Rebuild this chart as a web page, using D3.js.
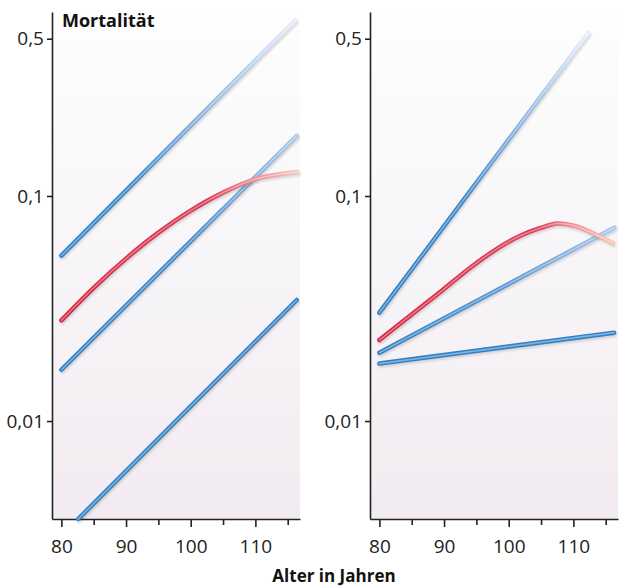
<!DOCTYPE html>
<html>
<head>
<meta charset="utf-8">
<script src="https://cdn.jsdelivr.net/npm/d3@7"></script>
<style>
  body { margin: 0; background: #fff; }
  svg { display: block; font-family: "Open Sans", sans-serif; }
</style>
</head>
<body>
<svg id="chart" width="620" height="586"></svg>
<script>

// tick values / labels
var yTicks = [0.01, 0.1, 0.5];
var yTickLabels = ["0,01", "0,1", "0,5"];
var xTicks = [80, 90, 100, 110];
var xMinorTicks = [85, 95, 105, 115];

// left panel, mortality
var leftTopAges = [80, 116.2];
var leftTopValues = [0.0543, 0.605];
var leftMidAges = [80, 116.4];
var leftMidValues = [0.0169, 0.185];
var leftLowAges = [82.6, 116.4];
var leftLowValues = [0.00367, 0.0345];
var leftRedAges = [80, 85, 90, 95, 100, 105, 110, 115, 116.5];
var leftRedValues = [0.0280, 0.0391, 0.0527, 0.0687, 0.0861, 0.1035, 0.1189, 0.1265, 0.1279];

// right panel
var rightTopAges = [80, 112.3];
var rightTopValues = [0.0303, 0.53];
var rightMidAges = [80, 116.3];
var rightMidValues = [0.0201, 0.0723];
var rightLowAges = [80, 116.3];
var rightLowValues = [0.0180, 0.0247];
var rightRedAges = [80, 84.7, 89.4, 94.0, 98.6, 101.7, 104.9, 107.5, 110.2, 113.3, 116.1];
var rightRedValues = [0.0229, 0.0293, 0.0374, 0.0479, 0.0593, 0.0664, 0.0721, 0.0755, 0.0736, 0.0678, 0.0618];

var svg = d3.select("#chart");
var defs = svg.append("defs");

// soft shadow under the lines
defs.append("filter").attr("id", "blur")
  .append("feGaussianBlur").attr("stdDeviation", 1.1);

// background fade white -> pinkish
var bg = defs.append("linearGradient").attr("id", "bg")
  .attr("x1", 0).attr("y1", 0).attr("x2", 0).attr("y2", 1);
bg.append("stop").attr("offset", 0).attr("stop-color", "#fefefe");
bg.append("stop").attr("offset", 0.45).attr("stop-color", "#f8f6f8");
bg.append("stop").attr("offset", 1).attr("stop-color", "#f2ebf1");

var plotTop = 12, plotBottom = 519;

var y = d3.scaleLog()
  .domain([0.00367, 0.657])
  .range([plotBottom, plotTop]);

var panels = [
  { left: 52, right: 300 },
  { left: 370, right: 618 }
];

var blue = "#2f7fc3", red = "#d8243e";

// stroke colour stops along each line (fading out to the upper right)
var series = [
  { panel: 0, ages: leftTopAges, values: leftTopValues, stops: [[0, blue], [0.3, "#3784c7"], [0.65, "#94b7e1"], [1, "#e6edf8"]] },
  { panel: 0, ages: leftMidAges, values: leftMidValues, stops: [[0, blue], [0.55, "#3f88c9"], [1, "#a9c5e9"]] },
  { panel: 0, ages: leftLowAges, values: leftLowValues, stops: [[0, blue], [1, blue]] },
  { panel: 0, ages: leftRedAges, values: leftRedValues, curved: true, stops: [[0, red], [0.65, "#dc3550"], [1, "#f8c6c2"]] },
  { panel: 1, ages: rightTopAges, values: rightTopValues, stops: [[0, blue], [0.4, "#3a85c8"], [0.75, "#9dbde4"], [1, "#e8eef8"]] },
  { panel: 1, ages: rightMidAges, values: rightMidValues, stops: [[0, blue], [0.55, "#5495d2"], [1, "#a8c6ec"]] },
  { panel: 1, ages: rightLowAges, values: rightLowValues, stops: [[0, blue], [1, blue]] },
  { panel: 1, ages: rightRedAges, values: rightRedValues, curved: true, stops: [[0, red], [0.75, "#de3a55"], [0.88, "#f08a90"], [1, "#fac4b2"]] }
];

function makePanel(p) {
  var x = d3.scaleLinear()
    .domain([78.55, 116.9])
    .range([p.left, p.right]);
  p.x = x;

  var g = svg.append("g");

  g.append("rect")
    .attr("x", p.left)
    .attr("y", plotTop)
    .attr("width", p.right - p.left)
    .attr("height", plotBottom - plotTop)
    .attr("fill", "url(#bg)");

  // y axis
  var yAxis = d3.axisLeft(y)
    .tickValues(yTicks)
    .tickFormat(function(d, i) { return yTickLabels[i]; })
    .tickSize(5)
    .tickSizeOuter(0)
    .tickPadding(3);

  g.append("g")
    .attr("transform", "translate(" + p.left + ",0)")
    .call(yAxis);

  // x axis, major and minor ticks
  var xAxis = d3.axisBottom(x)
    .tickValues(xTicks)
    .tickSize(8)
    .tickSizeOuter(0)
    .tickPadding(13);

  g.append("g")
    .attr("transform", "translate(0," + plotBottom + ")")
    .call(xAxis);

  g.append("g")
    .attr("transform", "translate(0," + plotBottom + ")")
    .call(d3.axisBottom(x).tickValues(xMinorTicks).tickSize(6).tickFormat(""))
    .select(".domain").remove();

  g.selectAll(".domain, .tick line")
    .attr("stroke", "#222")
    .attr("stroke-width", 1.6);
  g.selectAll(".tick text")
    .attr("fill", "#222")
    .style("font-size", "19px")
    .style("font-family", "'Open Sans', sans-serif");
}

panels.forEach(makePanel);

var straight = d3.line()
  .x(function(d) { return d.px; })
  .y(function(d) { return d.py; });
var smooth = d3.line()
  .x(function(d) { return d.px; })
  .y(function(d) { return d.py; })
  .curve(d3.curveCatmullRom.alpha(0.5));

series.forEach(function(s, i) {
  var x = panels[s.panel].x;
  var pts = s.ages.map(function(a, j) {
    return { px: x(a), py: y(s.values[j]) };
  });
  var line = s.curved ? smooth : straight;
  var first = pts[0], last = pts[pts.length - 1];

  // one gradient for the rim, a lighter one for the centre
  ["o", "i"].forEach(function(k) {
    var grad = defs.append("linearGradient")
      .attr("id", "g" + i + k)
      .attr("gradientUnits", "userSpaceOnUse")
      .attr("x1", first.px).attr("y1", first.py)
      .attr("x2", last.px).attr("y2", last.py);
    s.stops.forEach(function(st) {
      var c = k == "o" ? st[1] : d3.interpolateRgb(st[1], "#fff")(0.38);
      grad.append("stop").attr("offset", st[0]).attr("stop-color", c);
    });
  });

  svg.append("path")
    .attr("d", line(pts))
    .attr("fill", "none")
    .attr("stroke", "#000")
    .attr("stroke-opacity", 0.14)
    .attr("stroke-width", 4.5)
    .attr("stroke-linecap", "round")
    .attr("filter", "url(#blur)")
    .attr("transform", "translate(1,2)");

  svg.append("path")
    .attr("d", line(pts))
    .attr("fill", "none")
    .attr("stroke", "url(#g" + i + "o)")
    .attr("stroke-width", 4.5)
    .attr("stroke-linecap", "round");

  svg.append("path")
    .attr("d", line(pts))
    .attr("fill", "none")
    .attr("stroke", "url(#g" + i + "i)")
    .attr("stroke-width", 1.6)
    .attr("stroke-linecap", "round");
});

// titles
svg.append("text")
  .attr("x", 62)
  .attr("y", 27)
  .attr("font-weight", "bold")
  .attr("font-size", 18)
  .attr("fill", "#111")
  .text("Mortalität");

svg.append("text")
  .attr("x", 334)
  .attr("y", 582)
  .attr("text-anchor", "middle")
  .attr("font-weight", "bold")
  .attr("font-size", 17)
  .attr("fill", "#111")
  .text("Alter in Jahren");

</script>
</body>
</html>
